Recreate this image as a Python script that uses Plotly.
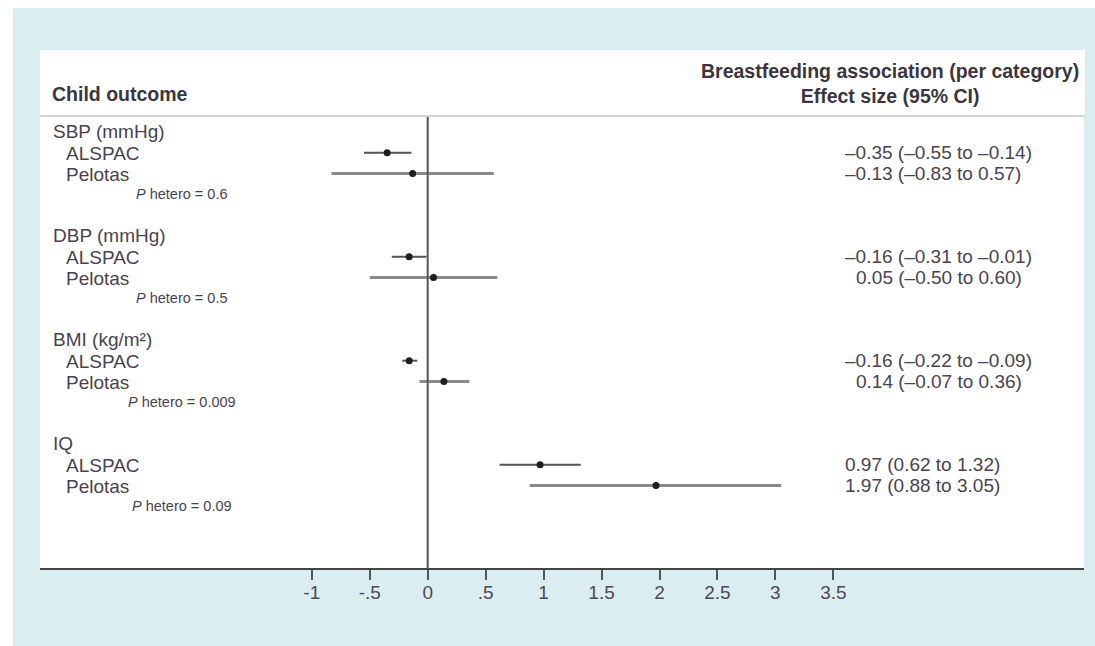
import plotly.graph_objects as go

# ---------------- data ----------------
outcomes = ["SBP (mmHg)", "DBP (mmHg)", "BMI (kg/m²)", "IQ"]
studies = ["ALSPAC", "Pelotas"]
alspac_est = [-0.35, -0.16, -0.16, 0.97]
alspac_lo = [-0.55, -0.31, -0.22, 0.62]
alspac_hi = [-0.14, -0.01, -0.09, 1.32]
pelotas_est = [-0.13, 0.05, 0.14, 1.97]
pelotas_lo = [-0.83, -0.50, -0.07, 0.88]
pelotas_hi = [0.57, 0.60, 0.36, 3.05]
p_hetero = ["0.6", "0.5", "0.009", "0.09"]
tick_vals = [-1, -0.5, 0, 0.5, 1, 1.5, 2, 2.5, 3, 3.5]
tick_text = ["-1", "-.5", "0", ".5", "1", "1.5", "2", "2.5", "3", "3.5"]

# ---------------- layout helpers ----------------
W, H = 1095, 646
L, R, T, B = 40, 1084, 117, 568          # plot area in pixels
def px(x):
    return (x - L) / (R - L)
def py(y):
    return (B - y) / (B - T)

SLOT = 20.8
GROUP = 5
ymin = 1 - (152.7 - T) / SLOT
ymax = ymin + (B - T) / SLOT

BG = "#daeef2"
TXT = "#4a4250"
HDR = "#3b3540"
FONT = "Liberation Sans, Arial, sans-serif"

def fmt(v):
    return f"{v:.2f}".replace("-", "\u2013")

fig = go.Figure()

series = [
    (alspac_est, alspac_lo, alspac_hi, 1, "#555555", 2),
    (pelotas_est, pelotas_lo, pelotas_hi, 2, "#8a8a8a", 3),
]
for est, lo, hi, k, col, th in series:
    ys = [g * GROUP + k for g in range(len(outcomes))]
    fig.add_trace(go.Scatter(
        x=est, y=ys, mode="markers",
        marker=dict(size=7, color="#1e1e1e"),
        error_x=dict(type="data", symmetric=False,
                     array=[h - e for h, e in zip(hi, est)],
                     arrayminus=[e - l for e, l in zip(est, lo)],
                     color=col, thickness=th, width=0),
        showlegend=False, hoverinfo="skip", cliponaxis=False,
    ))

ann = []
for g, name in enumerate(outcomes):
    base = g * GROUP
    ann.append(dict(x=px(51), y=base, xref="paper", yref="y", text=name,
                    xanchor="left", yanchor="middle", showarrow=False,
                    font=dict(size=19, color=TXT, family=FONT)))
    for k, st in enumerate(studies, start=1):
        ann.append(dict(x=px(64), y=base + k + 0.05, xref="paper", yref="y", text=st,
                        xanchor="left", yanchor="middle", showarrow=False,
                        font=dict(size=19, color=TXT, family=FONT)))
    ann.append(dict(x=px(182), y=base + 3, xref="paper", yref="y",
                    text=f"<i>P</i> hetero = {p_hetero[g]}",
                    xanchor="center", yanchor="middle", showarrow=False,
                    font=dict(size=14.5, color=TXT, family=FONT)))
    labels = [
        f"{fmt(alspac_est[g])} ({fmt(alspac_lo[g])} to {fmt(alspac_hi[g])})",
        f"{fmt(pelotas_est[g])} ({fmt(pelotas_lo[g])} to {fmt(pelotas_hi[g])})",
    ]
    any_neg = any(l.startswith("\u2013") for l in labels)
    for k, lab in enumerate(labels, start=1):
        xpos = 843 if (lab.startswith("\u2013") or not any_neg) else 854
        ann.append(dict(x=px(xpos), y=base + k, xref="paper", yref="y", text=lab,
                        xanchor="left", yanchor="middle", showarrow=False,
                        font=dict(size=19, color=TXT, family=FONT)))

ann.append(dict(x=px(50), y=py(94), xref="paper", yref="paper",
                text="<b>Child outcome</b>", xanchor="left", yanchor="middle",
                showarrow=False, font=dict(size=19.5, color=HDR, family=FONT)))
ann.append(dict(x=px(890), y=py(84), xref="paper", yref="paper",
                text="<b>Breastfeeding association (per category)</b><br><b>Effect size (95% CI)</b>",
                xanchor="center", yanchor="middle", align="center",
                showarrow=False, font=dict(size=19.5, color=HDR, family=FONT)))

shapes = [
    # white outer strips (top and left)
    dict(type="rect", xref="paper", yref="paper", x0=px(0), x1=px(W), y0=py(8), y1=py(0),
         fillcolor="white", line=dict(width=0), layer="below"),
    dict(type="rect", xref="paper", yref="paper", x0=px(0), x1=px(13), y0=py(H), y1=py(0),
         fillcolor="white", line=dict(width=0), layer="below"),
    # header white panel
    dict(type="rect", xref="paper", yref="paper", x0=px(40), x1=px(1085), y0=py(117), y1=py(50),
         fillcolor="white", line=dict(width=0), layer="below"),
    # header separator
    dict(type="line", xref="paper", yref="paper", x0=px(40), x1=px(1085), y0=py(116), y1=py(116),
         line=dict(color="#c4c4c4", width=1.5)),
    # zero reference line
    dict(type="line", xref="x", yref="paper", x0=0, x1=0, y0=0, y1=1,
         line=dict(color="#555555", width=2)),
]

x0v = (L - 427.7) / 115.9
x1v = (R - 427.7) / 115.9

fig.update_layout(
    width=W, height=H,
    margin=dict(l=L, r=W - R, t=T, b=H - B, pad=0),
    paper_bgcolor=BG, plot_bgcolor="white",
    annotations=ann, shapes=shapes,
    xaxis=dict(range=[x0v, x1v], showgrid=False, zeroline=False,
               showline=True, linecolor="#444444", linewidth=2,
               ticks="outside", ticklen=10, tickwidth=2, tickcolor="#555555",
               tickvals=tick_vals, ticktext=tick_text,
               tickfont=dict(size=19, color="#4e4854", family=FONT),
               fixedrange=True),
    yaxis=dict(range=[ymax, ymin], visible=False, fixedrange=True),
    showlegend=False,
)
try:
    fig.update_xaxes(ticklabelstandoff=-4)
except Exception:
    pass

fig.write_html("out.html")
